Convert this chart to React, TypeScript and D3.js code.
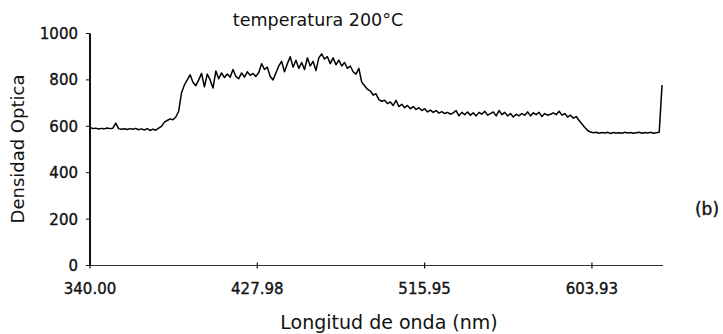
import React from "react";
import * as d3 from "d3";

// Spectrum: optical density sampled evenly from 340 nm to 640.8 nm
const startNm = 340;
const stepNm = 1.504;
const density: number[] = [
  596, 590, 592, 588, 591, 589, 593, 590, 592, 614,
  590, 587, 589, 586, 590, 587, 591, 585, 589, 584,
  590, 582, 588, 583, 592, 600, 618, 625, 632, 628,
  640, 665, 745, 778, 800, 822, 790, 775, 800, 828,
  770, 825, 800, 765, 838, 805, 830, 810, 825, 812,
  845, 815, 805, 830, 812, 835, 820, 828, 815, 832,
  870, 845, 855, 815, 800, 830, 860, 880, 835, 870,
  900, 855, 885, 850, 875, 845, 895, 860, 880, 840,
  895, 912, 890, 900, 870, 895, 865, 885, 860, 875,
  850, 860, 835, 825, 850, 790, 775, 760, 752, 735,
  740, 715, 708, 712, 698, 705, 690, 712, 685, 695,
  680, 690, 676, 685, 672, 680, 668, 676, 662, 670,
  660, 668, 657, 663, 655, 660, 652, 658, 668, 645,
  660, 650, 662, 648, 658, 645, 660, 652, 665, 648,
  655, 662, 645, 668, 650, 660, 645, 655, 640, 652,
  645, 655, 648, 662, 645, 658, 650, 660, 642, 655,
  648, 652, 658, 650, 665, 648, 655, 640, 648, 635,
  642, 625, 610, 595, 582, 575, 572, 574, 570, 573,
  571, 574, 569, 573, 571, 572, 570, 574, 571, 573,
  570, 572, 574, 570, 573, 571, 574, 570, 572, 574,
  778,
];
const xTicks = [340.0, 427.98, 515.95, 603.93];
const yTicks = [0, 200, 400, 600, 800, 1000];
const title = "temperatura 200°C";
const xTitle = "Longitud de onda (nm)";
const yTitle = "Densidad Optica";
const panelTag = "(b)";

const W = 723;
const H = 334;
const font = "'DejaVu Sans', sans-serif";

export default function App() {
  const x = d3.scaleLinear().domain([340, 641.3]).range([90, 663]);
  const y = d3.scaleLinear().domain([0, 1000]).range([265.5, 33.5]);
  const pts = density.map((v, i) => [startNm + i * stepNm, v] as [number, number]);
  const line = d3
    .line<[number, number]>()
    .x((d) => x(d[0]))
    .y((d) => y(d[1]));

  return (
    <svg
      width={W}
      height={H}
      style={{ position: "absolute", left: 0, top: 0, background: "#fff" }}
      fontFamily={font}
    >
      <rect width={W} height={H} fill="#fff" />
      {/* title */}
      <text x={318} y={26} textAnchor="middle" fontSize={17.5} fill="#111">
        {title}
      </text>
      {/* y axis */}
      <line x1={x(340)} x2={x(340)} y1={y(1000)} y2={y(0)} stroke="#111" strokeWidth={2} />
      {yTicks.map((t) => (
        <g key={t}>
          <line x1={x(340) - 4} x2={x(340)} y1={y(t)} y2={y(t)} stroke="#111" strokeWidth={1} />
          <text
            x={78}
            y={y(t) + 5.5}
            textAnchor="end"
            fontSize={15}
            fill="#111"
            stroke="#111"
            strokeWidth={0.35}
          >
            {t}
          </text>
        </g>
      ))}
      {/* x axis */}
      <line x1={x(340)} x2={663} y1={y(0)} y2={y(0)} stroke="#333" strokeWidth={1.2} />
      {xTicks.map((t) => (
        <g key={t}>
          <line x1={x(t)} x2={x(t)} y1={y(0) - 3} y2={y(0) + 3} stroke="#111" strokeWidth={1.2} />
          <text
            x={x(t)}
            y={294}
            textAnchor="middle"
            fontSize={15}
            fill="#111"
            stroke="#111"
            strokeWidth={0.35}
          >
            {t.toFixed(2)}
          </text>
        </g>
      ))}
      {/* data */}
      <path d={line(pts) || ""} fill="none" stroke="#000" strokeWidth={1.5} strokeLinejoin="round" />
      {/* axis titles */}
      <text x={389} y={329} textAnchor="middle" fontSize={19} fill="#111">
        {xTitle}
      </text>
      <text
        transform={`translate(24,149) rotate(-90)`}
        textAnchor="middle"
        fontSize={18}
        fill="#111"
      >
        {yTitle}
      </text>
      <text x={707} y={215} textAnchor="middle" fontSize={17} fill="#111" stroke="#111" strokeWidth={0.4}>
        {panelTag}
      </text>
    </svg>
  );
}
